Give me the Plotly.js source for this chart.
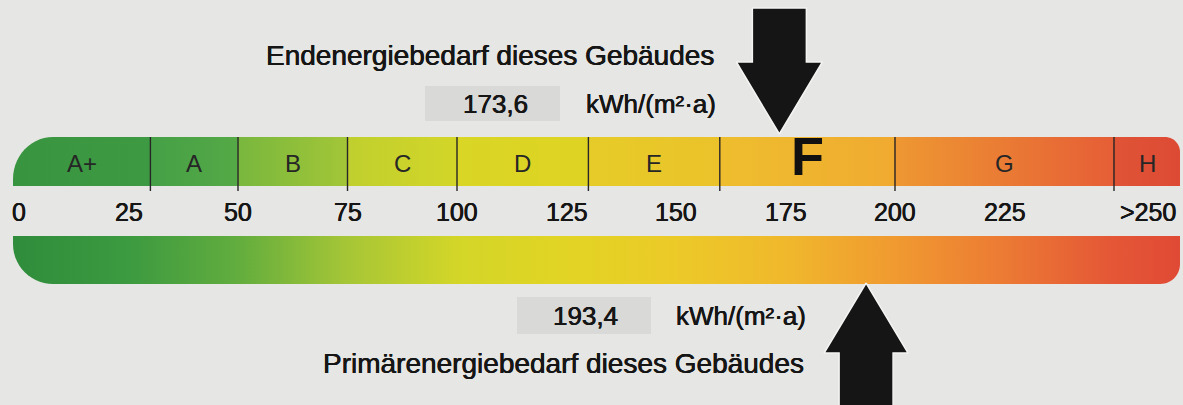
<!DOCTYPE html>
<html>
<head>
<meta charset="utf-8">
<script src="https://cdn.plot.ly/plotly-3.0.1.min.js"></script>
<style>
  html, body { margin: 0; padding: 0; background: #e6e6e4; }
  #chart { width: 1183px; height: 405px; }
</style>
</head>
<body>
<div id="chart"></div>
<script>
// ---------------- data ----------------
const classes = ['A+', 'A', 'B', 'C', 'D', 'E', 'F', 'G', 'H'];
const classLimits = [30, 50, 75, 100, 130, 160, 200, 250];
const tickValues = [0, 25, 50, 75, 100, 125, 150, 175, 200, 225, 250];
const tickLabels = ['0', '25', '50', '75', '100', '125', '150', '175', '200', '225', '>250'];
const endenergieValue = 173.6;
const primaerenergieValue = 193.4;
const endenergieLabel = 'Endenergiebedarf dieses Gebäudes';
const primaerenergieLabel = 'Primärenergiebedarf dieses Gebäudes';
const unitLabel = 'kWh/(m²·a)';
const currentClass = 'F';

// ---------------- styles ----------------
const classColors = [
  ['#38943f', '#3e9a42'],
  ['#45a046', '#55a946'],
  ['#78b73e', '#a3c637'],
  ['#c0cf2e', '#d3d628'],
  ['#d9d626', '#dfd322'],
  ['#e6cc28', '#ebc22a'],
  ['#eebe2e', '#f0aa30'],
  ['#ee9832', '#e65e36'],
  ['#e05436', '#dd4a34']
];
const bottomStops = [
  [0, '#2f8c3b'], [25, '#3c9a40'], [50, '#62ad3e'], [75, '#a6c636'],
  [100, '#d3d628'], [125, '#e2d424'], [150, '#ecca28'], [175, '#f0b82c'],
  [200, '#f09a30'], [225, '#ec7a34'], [250, '#e45636'], [265, '#e04a35']
];

const W = 1183, H = 405;
const X0 = 19, K = 4.38;               // pixel of value 0, pixels per unit
const ux = px => (px - X0) / K;         // pixel -> data
const xp = v => X0 + v * K;             // data -> pixel
const fontFam = 'Liberation Sans, Arial, sans-serif';
const txtColor = '#161616';
const heavy = '0.3px 0 0 #161616, -0.3px 0 0 #161616';

const scaleMin = ux(13), scaleMax = ux(1180);
const topY0 = 137, topY1 = 186;
const botY0 = 236, botY1 = 284;

function roundRect(x0, x1, y0, y1, r) {
  const p0 = xp(x0), p1 = xp(x1);
  const pts = [];
  const N = 14;
  function arc(cx, cy, rx, ry, a0, a1) {
    for (let i = 0; i <= N; i++) {
      const a = a0 + (a1 - a0) * i / N;
      pts.push([cx + rx * Math.cos(a), cy + ry * Math.sin(a)]);
    }
  }
  const tl = r.tl || [0, 0], tr = r.tr || [0, 0], br = r.br || [0, 0], bl = r.bl || [0, 0];
  arc(p1 - tr[0], y0 + tr[1], tr[0], tr[1], -Math.PI / 2, 0);
  arc(p1 - br[0], y1 - br[1], br[0], br[1], 0, Math.PI / 2);
  arc(p0 + bl[0], y1 - bl[1], bl[0], bl[1], Math.PI / 2, Math.PI);
  arc(p0 + tl[0], y0 + tl[1], tl[0], tl[1], Math.PI, 1.5 * Math.PI);
  pts.push(pts[0]);
  return { x: pts.map(p => ux(p[0])), y: pts.map(p => p[1]) };
}

const traces = [];
const edges = [scaleMin].concat(classLimits, [scaleMax]);

// top bar: class segments
classes.forEach((c, i) => {
  const r = {};
  if (i === 0) r.tl = [40, 42];
  if (i === classes.length - 1) r.tr = [15, 15];
  const a = i === 0 ? edges[i] : edges[i] - 0.15;
  const path = roundRect(a, edges[i + 1], topY0, topY1, r);
  traces.push({
    type: 'scatter', mode: 'none', x: path.x, y: path.y, fill: 'toself',
    fillgradient: { type: 'horizontal', colorscale: [[0, classColors[i][0]], [1, classColors[i][1]]] },
    hoverinfo: 'skip', showlegend: false
  });
});

// bottom bar: continuous gradient
{
  const path = roundRect(scaleMin, scaleMax, botY0, botY1, { bl: [40, 40], br: [20, 20] });
  const span = scaleMax - scaleMin;
  const cs = bottomStops.map(s => [Math.min(1, Math.max(0, (s[0] - scaleMin) / span)), s[1]]);
  cs[0][0] = 0; cs[cs.length - 1][0] = 1;
  traces.push({
    type: 'scatter', mode: 'none', x: path.x, y: path.y, fill: 'toself',
    fillgradient: { type: 'horizontal', colorscale: cs, start: scaleMin, stop: scaleMax },
    hoverinfo: 'skip', showlegend: false
  });
}

// arrows
function arrow(value, tipY, headY, endY, headHalf, shaftHalf) {
  const px = [0, headHalf, shaftHalf, shaftHalf, -shaftHalf, -shaftHalf, -headHalf, 0];
  const py = [tipY, headY, headY, endY, endY, headY, headY, tipY];
  return {
    type: 'scatter', mode: 'lines', x: px.map(d => value + d / K), y: py,
    fill: 'toself', fillcolor: '#151515', line: { color: '#f4f4f2', width: 1.5 },
    hoverinfo: 'skip', showlegend: false
  };
}
traces.push(arrow(endenergieValue, 134, 62, 8, 43, 27));
traces.push(arrow(primaerenergieValue, 283, 353, 410, 42, 27));

// shapes
const shapes = [];
classLimits.forEach(v => {
  shapes.push({ type: 'line', xref: 'x', yref: 'y', x0: v, x1: v, y0: topY0, y1: topY1 + 5,
    line: { color: '#262626', width: 1.4 }, layer: 'above' });
});
const pxp = p => p / W;
shapes.push({ type: 'rect', xref: 'paper', yref: 'y', x0: pxp(425), x1: pxp(560), y0: 86, y1: 121,
  fillcolor: '#d9d9d8', line: { width: 0 }, layer: 'below' });
shapes.push({ type: 'rect', xref: 'paper', yref: 'y', x0: pxp(517), x1: pxp(651), y0: 297, y1: 334,
  fillcolor: '#d9d9d8', line: { width: 0 }, layer: 'below' });

// annotations
const ann = [];
classes.forEach((c, i) => {
  const mid = (edges[i] + edges[i + 1]) / 2;
  const big = c === currentClass;
  ann.push({ x: mid, y: big ? 156 : 163, xref: 'x', yref: 'y', text: c, showarrow: false,
    xanchor: 'center', yanchor: 'middle',
    font: { family: fontFam, size: big ? 54 : 24, color: big ? '#111' : '#262626', weight: big ? 700 : 400 } });
});
tickValues.forEach((v, i) => {
  const last = i === tickValues.length - 1;
  ann.push({ x: v, y: 212, xref: 'x', yref: 'y', text: tickLabels[i], showarrow: false,
    xanchor: last ? 'left' : 'center', xshift: last ? 4 : 0, yanchor: 'middle',
    font: { family: fontFam, size: 25, color: txtColor, shadow: heavy } });
});
const fmt = v => v.toFixed(1).replace('.', ',');
function txt(xpx, ypx, text, size) {
  ann.push({ x: pxp(xpx), y: ypx, xref: 'paper', yref: 'y', text: text, showarrow: false,
    xanchor: 'center', yanchor: 'middle', font: { family: fontFam, size: size, color: txtColor, shadow: heavy } });
}
txt(490, 55, endenergieLabel, 28);
txt(495, 104, fmt(endenergieValue), 26);
txt(651, 104, unitLabel, 26);
txt(585, 316, fmt(primaerenergieValue), 26);
txt(741, 316, unitLabel, 26);
txt(563, 363, primaerenergieLabel, 28);

const layout = {
  width: W, height: H,
  margin: { l: 0, r: 0, t: 0, b: 0 },
  paper_bgcolor: '#e6e6e4', plot_bgcolor: '#e6e6e4',
  xaxis: { range: [ux(0), ux(W)], visible: false, fixedrange: true },
  yaxis: { range: [H, 0], visible: false, fixedrange: true },
  shapes: shapes, annotations: ann, showlegend: false
};
Plotly.newPlot('chart', traces, layout, { staticPlot: true, displayModeBar: false });
</script>
</body>
</html>
